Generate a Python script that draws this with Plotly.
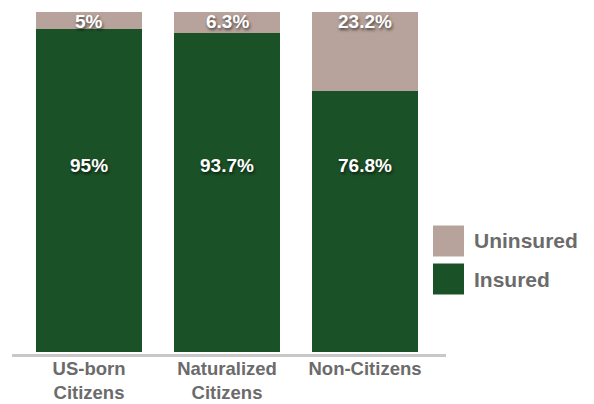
import plotly.graph_objects as go

categories = ["US-born<br>Citizens", "Naturalized<br>Citizens", "Non-Citizens"]
insured = [95, 93.7, 76.8]
uninsured = [5, 6.3, 23.2]
insured_labels = ["95%", "93.7%", "76.8%"]
uninsured_labels = ["5%", "6.3%", "23.2%"]

GREEN = "#1b5127"
TAUPE = "#b7a39b"
GRAY_TXT = "#6b6b6b"
FONT = "Liberation Sans, Arial, sans-serif"

fig = go.Figure()
fig.add_trace(go.Bar(x=categories, y=insured, name="Insured", marker_color=GREEN,
                     marker_line_width=0, hoverinfo="skip"))
fig.add_trace(go.Bar(x=categories, y=uninsured, name="Uninsured", marker_color=TAUPE,
                     marker_line_width=0, hoverinfo="skip"))

lab_font = dict(family=FONT, size=19, color="white", weight="bold",
                shadow="1px 2px 3px rgba(0,0,0,0.6)")
for c, t in zip(categories, insured_labels):
    fig.add_annotation(x=c, y=55.0, text=t, showarrow=False, font=lab_font)
for c, t in zip(categories, uninsured_labels):
    fig.add_annotation(x=c, y=97.3, text=t, showarrow=False, font=lab_font)

# legend drawn manually
legend_items = [("Uninsured", TAUPE, 241), ("Insured", GREEN, 279)]
for name, col, yc in legend_items:
    fig.add_shape(type="rect", xref="paper", yref="paper",
                  x0=(433 - 12) / 434, x1=(464 - 12) / 434,
                  y0=(354 - (yc + 15.5)) / 342, y1=(354 - (yc - 15.5)) / 342,
                  fillcolor=col, line_width=0)
    fig.add_annotation(xref="paper", yref="paper", x=(472 - 12) / 434,
                       y=(354 - yc) / 342, text=name, showarrow=False,
                       xanchor="left", yanchor="middle",
                       font=dict(family=FONT, size=21, color=GRAY_TXT, weight="bold"))

fig.update_layout(
    width=594, height=404,
    margin=dict(l=4, r=156, t=4, b=58),
    barmode="stack", bargap=0.232,
    paper_bgcolor="white", plot_bgcolor="white",
    showlegend=False,
    xaxis=dict(range=[-0.558, 2.587], showline=True, linecolor="#c8c8c8", linewidth=3,
               ticks="", showgrid=False, zeroline=False, automargin=False,
               ticklabelstandoff=-4,
               tickfont=dict(family=FONT, size=18.5, color=GRAY_TXT, weight="bold")),
    yaxis=dict(range=[-0.588, 100], visible=False, showgrid=False, zeroline=False,
               automargin=False),
)

fig.write_html("out.html")
